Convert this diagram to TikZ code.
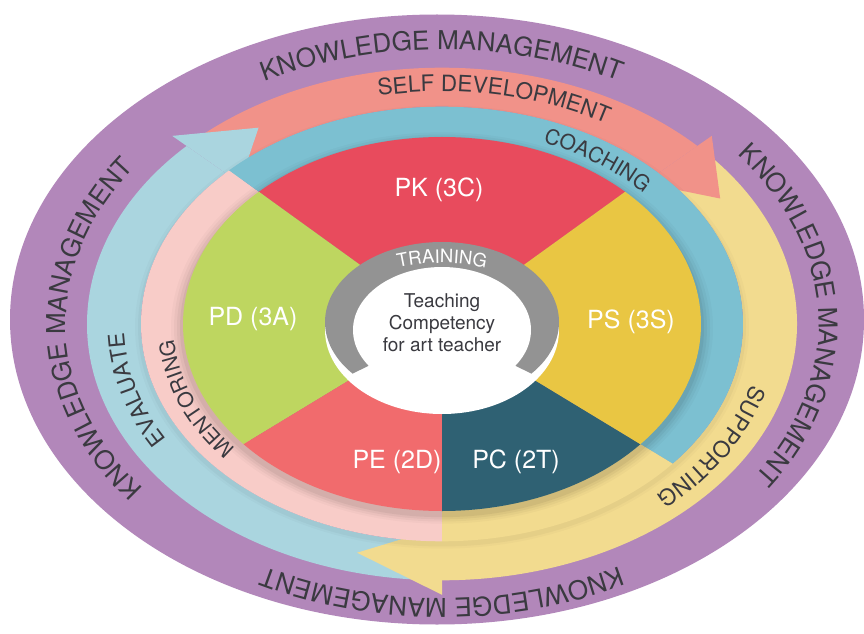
\documentclass[tikz,border=0pt]{standalone}
\usepackage{fontspec}
\setmainfont{TeX Gyre Heros}
\usetikzlibrary{decorations.text}
\definecolor{kmpurple}{HTML}{B287BA}
\definecolor{selfdev}{HTML}{F19289}
\definecolor{evalblue}{HTML}{AAD5DF}
\definecolor{suppyellow}{HTML}{F2DB8F}
\definecolor{coachblue}{HTML}{7CC0D1}
\definecolor{mentpink}{HTML}{F8CCC8}
\definecolor{pkred}{HTML}{E84B5D}
\definecolor{pdgreen}{HTML}{BED660}
\definecolor{pered}{HTML}{F16B6D}
\definecolor{pcteal}{HTML}{2F6173}
\definecolor{psyellow}{HTML}{E9C643}
\definecolor{traingray}{HTML}{939393}
\definecolor{txtdark}{HTML}{3A3A40}
\newcommand{\kmfnt}{\fontsize{26}{26}\selectfont}
\newcommand{\arcfnt}{\fontsize{22.5}{22.5}\selectfont}
\newcommand{\smarcfnt}{\fontsize{21}{21}\selectfont}
\newcommand{\trfnt}{\fontsize{18.5}{18.5}\selectfont}
\tikzset{
  seclabel/.style={text=white, font=\fontsize{25}{25}\selectfont, inner sep=0pt},
  centerlabel/.style={text=txtdark, font=\fontsize{19}{22}\selectfont, align=center, inner sep=0pt},
}
\begin{document}
\begin{tikzpicture}[x=1pt,y=1pt]
\useasboundingbox (0,0) rectangle (864,633);
\fill[white] (0,0) rectangle (864,633);
% outer knowledge management ring
\fill[kmpurple] (437,313.5) ellipse [x radius=427pt, y radius=305pt];
\begin{scope}[shift={(442,309)}]
  % arrow bodies
  \fill[evalblue] (268:355pt and 256.3pt) arc[start angle=268,end angle=136,x radius=355pt,y radius=256.3pt]
    -- (136:301pt and 217.3pt) arc[start angle=136,end angle=268,x radius=301pt,y radius=217.3pt] -- cycle;
  \fill[selfdev] (134:355pt and 256.3pt) arc[start angle=134,end angle=44,x radius=355pt,y radius=256.3pt]
    -- (44:301pt and 217.3pt) arc[start angle=44,end angle=134,x radius=301pt,y radius=217.3pt] -- cycle;
  \fill[suppyellow] (40:355pt and 256.3pt) arc[start angle=40,end angle=-90,x radius=355pt,y radius=256.3pt]
    -- (-90:250pt and 180.5pt) arc[start angle=-90,end angle=-40,x radius=250pt,y radius=180.5pt]
    -- (-40:301pt and 217.3pt) arc[start angle=-40,end angle=40,x radius=301pt,y radius=217.3pt] -- cycle;
  % arrow heads
  \fill[evalblue] (136:375pt and 270.8pt) -- (124:328pt and 236.8pt) -- (136:281pt and 202.9pt) -- cycle;
  \fill[selfdev] (44:375pt and 270.8pt) -- (32:328pt and 236.8pt) -- (44:281pt and 202.9pt) -- cycle;
  \fill[suppyellow] (-90:375pt and 270.8pt) -- (-105:328pt and 236.8pt) -- (-90:281pt and 202.9pt) -- cycle;
  % soft shadow of the inner bands
  \foreach \d/\o in {6/0.02,3/0.03}{
    \fill[black,opacity=\o] (0,-3) ellipse[x radius={(301+\d)*1pt}, y radius={(217.3+\d/1.385)*1pt}];
  }
  % inner bands
  \fill[mentpink] (135:301pt and 217.3pt) arc[start angle=135,end angle=270,x radius=301pt,y radius=217.3pt]
    -- (270:250pt and 180.5pt) arc[start angle=270,end angle=135,x radius=250pt,y radius=180.5pt] -- cycle;
  \fill[coachblue] (135:301pt and 217.3pt) arc[start angle=135,end angle=-40,x radius=301pt,y radius=217.3pt]
    -- (-40:250pt and 180.5pt) arc[start angle=-40,end angle=135,x radius=250pt,y radius=180.5pt] -- cycle;
  \fill[suppyellow] (-40:301pt and 217.3pt) arc[start angle=-40,end angle=-90,x radius=301pt,y radius=217.3pt]
    -- (-90:250pt and 180.5pt) arc[start angle=-90,end angle=-40,x radius=250pt,y radius=180.5pt] -- cycle;
  % soft shadow of the pie
  \foreach \d/\o in {12/0.025,9/0.03,6/0.04,3/0.05}{
    \fill[black,opacity=\o] (0,-4) ellipse[x radius={(259+\d)*1pt}, y radius={(187+\d/1.385)*1pt}];
  }
  % pie sectors
  \fill[pkred] (0,0) -- (45:259pt and 187pt) arc[start angle=45,end angle=135,x radius=259pt,y radius=187pt] -- cycle;
  \fill[pdgreen] (0,0) -- (135:259pt and 187pt) arc[start angle=135,end angle=220,x radius=259pt,y radius=187pt] -- cycle;
  \fill[pered] (0,0) -- (220:259pt and 187pt) arc[start angle=220,end angle=270,x radius=259pt,y radius=187pt] -- cycle;
  \fill[pcteal] (0,0) -- (270:259pt and 187pt) arc[start angle=270,end angle=320,x radius=259pt,y radius=187pt] -- cycle;
  \fill[psyellow] (0,0) -- (320:259pt and 187pt) arc[start angle=320,end angle=405,x radius=259pt,y radius=187pt] -- cycle;
  % centre
  \fill[white] (0,-6) ellipse[x radius=117pt, y radius=84pt];
  \begin{scope}
    \clip (0,2) ellipse[x radius=117pt, y radius=80pt];
    \begin{scope}[shift={(0,-6)}]
      \fill[traingray] (0,0) -- (206:300pt) -- (150:300pt) -- (90:300pt) -- (30:300pt) -- (334:300pt) -- cycle;
    \end{scope}
  \end{scope}
  \fill[white] (0,-6) ellipse[x radius=89pt, y radius=63pt];
  % sector labels
  \node[seclabel] (pk) at (-3,134) {PK (3C)};
  \node[seclabel] (pd) at (-189,5) {PD (3A)};
  \node[seclabel] (ps) at (189,2) {PS (3S)};
  \node[seclabel] (pe) at (-45,-138) {PE (2D)};
  \node[seclabel] (pc) at (74,-138) {PC (2T)};
  \node[centerlabel] (core) at (0,1) {Teaching\\Competency\\for art teacher};
  % curved texts
  \begin{scope}[shift={(0,-21)}]
    \path[decorate, decoration={text along path, text align=center, text color=white, text={|\trfnt|TRAINING}}]
      (120:130pt and 82pt) arc[start angle=120,end angle=60,x radius=130pt,y radius=82pt];
  \end{scope}
  \path[decorate, decoration={text along path, text align=center, text color=txtdark, text={|\kmfnt|KNOWLEDGE MANAGEMENT}}]
    (150:380pt and 274.4pt) arc[start angle=150,end angle=30,x radius=380pt,y radius=274.4pt];
  \path[decorate, decoration={text along path, text align=center, text color=txtdark, text={|\kmfnt|KNOWLEDGE MANAGEMENT}}]
    (52:377pt and 272.2pt) arc[start angle=52,end angle=-48,x radius=377pt,y radius=272.2pt];
  \path[decorate, decoration={text along path, text align=center, text color=txtdark, text={|\kmfnt|KNOWLEDGE MANAGEMENT}}]
    (231:376pt and 271.5pt) arc[start angle=231,end angle=131,x radius=376pt,y radius=271.5pt];
  \path[decorate, decoration={text along path, text align=center, text color=txtdark, text={|\kmfnt|KNOWLEDGE MANAGEMENT}}]
    (330:380pt and 274.4pt) arc[start angle=330,end angle=210,x radius=380pt,y radius=274.4pt];
  \path[decorate, decoration={text along path, text align=center, text color=txtdark, text={|\arcfnt|SELF DEVELOPMENT}}]
    (110:322pt and 232.5pt) arc[start angle=110,end angle=50,x radius=322pt,y radius=232.5pt];
  \path[decorate, decoration={text along path, text align=center, text color=txtdark, text={|\smarcfnt|COACHING}}]
    (79:271pt and 195.7pt) arc[start angle=79,end angle=29,x radius=271pt,y radius=195.7pt];
  \path[decorate, decoration={text along path, text align=center, text color=txtdark, text={|\arcfnt|SUPPORTING}}]
    (0:320pt and 231pt) arc[start angle=0,end angle=-60,x radius=320pt,y radius=231pt];
  \path[decorate, decoration={text along path, text align=center, text color=txtdark, text={|\arcfnt|EVALUATE}}]
    (225:318pt and 229.6pt) arc[start angle=225,end angle=165,x radius=318pt,y radius=229.6pt];
  \path[decorate, decoration={text along path, text align=center, text color=txtdark, text={|\smarcfnt|MENTORING}}]
    (231:269pt and 194.2pt) arc[start angle=231,end angle=171,x radius=269pt,y radius=194.2pt];
\end{scope}
\end{tikzpicture}
\end{document}
